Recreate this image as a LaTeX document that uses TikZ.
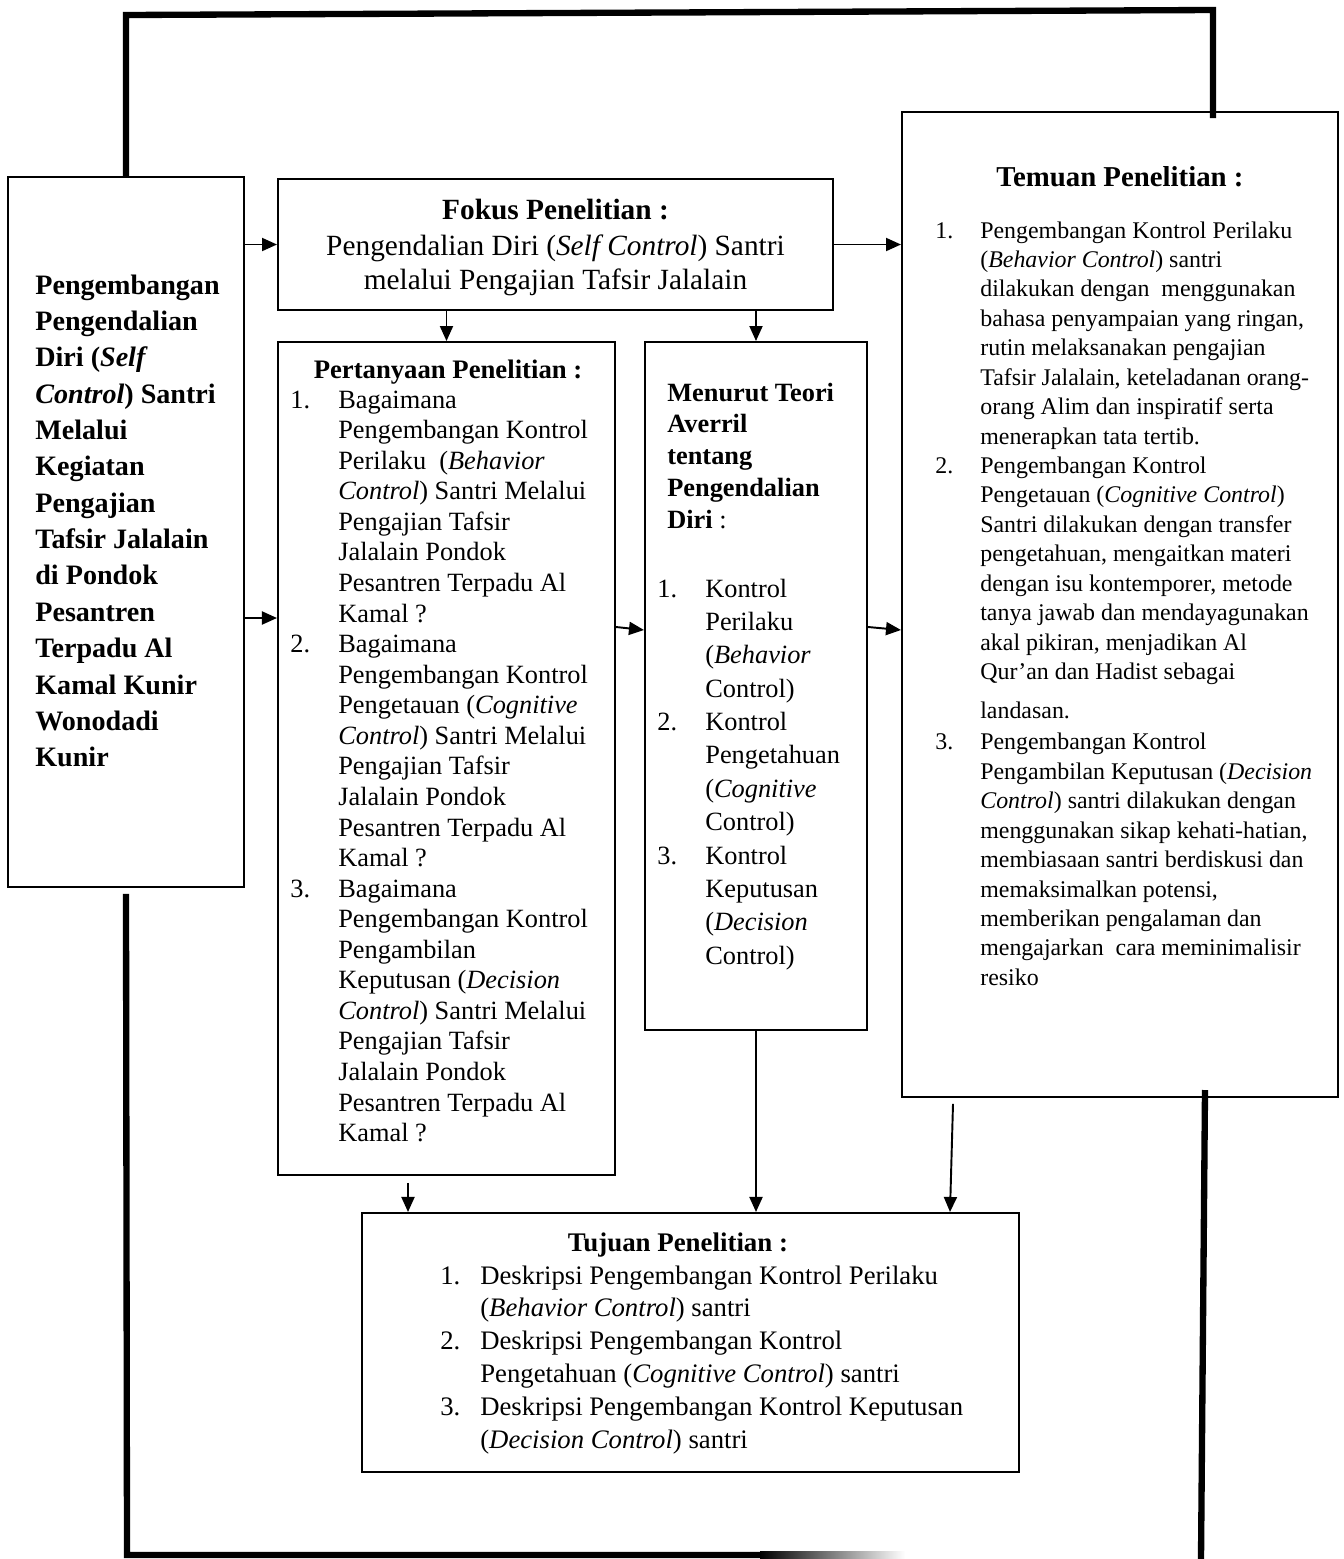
\documentclass[tikz,border=0pt]{standalone}
\usepackage{fontspec}
\setmainfont{Liberation Serif}
\usetikzlibrary{arrows.meta, positioning}

\begin{document}
\begin{tikzpicture}[x=0.02cm, y=-0.02cm,
    box/.style={draw, rectangle, line width=1.2pt, inner sep=0pt},
    txt/.style={anchor=base west, inner sep=0pt},
    ttl/.style={anchor=base, inner sep=0pt, font=\fontsize{15.2}{18}\selectfont\bfseries},
    arr/.style={-{Triangle[length=0.3cm, width=0.26cm]}, line width=1.1pt},
    loopline/.style={line width=3.6pt}]

    \useasboundingbox (0,0) rectangle (1344,1559);

    % Boxes of the framework
    \node (leftBox) [box, minimum width=4.72cm, minimum height=14.2cm] at (126,532) {};
    \node (fokus) [box, minimum width=11.1cm, minimum height=2.62cm] at (555.5,244.5) {};
    \node (pertanyaan) [box, minimum width=6.74cm, minimum height=16.66cm] at (446.5,758.5) {};
    \node (menurut) [box, minimum width=4.44cm, minimum height=13.76cm] at (756,686) {};
    \node (temuan) [box, minimum width=8.72cm, minimum height=19.7cm] at (1120,604.5) {};
    \node (tujuan) [box, minimum width=13.14cm, minimum height=5.18cm] at (690.5,1342.5) {};

    % Texts inside the boxes
    \node (leftText) [txt, font=\fontsize{16}{20.7}\selectfont\bfseries] at (35,294) {\begin{tabular}[t]{@{}l@{}}
        Pengembangan\\ Pengendalian\\ Diri (\textit{Self}\\ \textit{Control}) Santri\\ Melalui\\ Kegiatan\\ Pengajian\\
        Tafsir Jalalain\\ di Pondok\\ Pesantren\\ Terpadu Al\\ Kamal Kunir\\ Wonodadi\\ Kunir
    \end{tabular}};

    \node (fokusText) [ttl, font=\fontsize{16.7}{19.5}\selectfont] at (555.5,219) {\begin{tabular}[t]{@{}c@{}}
        \textbf{Fokus Penelitian :}\\[1pt]
        Pengendalian Diri (\textit{Self Control}) Santri\\
        melalui Pengajian Tafsir Jalalain
    \end{tabular}};

    \node (pertanyaanTitle) [ttl] at (448,378) {Pertanyaan Penelitian :};
    \node (pertanyaanList) [txt, font=\fontsize{15}{17.4}\selectfont] at (290,408) {\begin{tabular}[t]{@{}p{0.96cm}@{}l@{}}
        1. & Bagaimana\\ & Pengembangan Kontrol\\ & Perilaku~ (\textit{Behavior}\\ & \textit{Control}) Santri Melalui\\
           & Pengajian Tafsir\\ & Jalalain Pondok\\ & Pesantren Terpadu Al\\ & Kamal ?\\
        2. & Bagaimana\\ & Pengembangan Kontrol\\ & Pengetauan (\textit{Cognitive}\\ & \textit{Control}) Santri Melalui\\
           & Pengajian Tafsir\\ & Jalalain Pondok\\ & Pesantren Terpadu Al\\ & Kamal ?\\
        3. & Bagaimana\\ & Pengembangan Kontrol\\ & Pengambilan\\ & Keputusan (\textit{Decision}\\
           & \textit{Control}) Santri Melalui\\ & Pengajian Tafsir\\ & Jalalain Pondok\\ & Pesantren Terpadu Al\\ & Kamal ?
    \end{tabular}};

    \node (menurutHead) [txt, font=\fontsize{15}{18.1}\selectfont] at (667,401) {\begin{tabular}[t]{@{}l@{}}
        \textbf{Menurut Teori}\\ \textbf{Averril}\\ \textbf{tentang}\\ \textbf{Pengendalian}\\ \textbf{Diri} :
    \end{tabular}};
    \node (menurutList) [txt, font=\fontsize{15}{19}\selectfont] at (657,597) {\begin{tabular}[t]{@{}p{0.96cm}@{}l@{}}
        1. & Kontrol\\ & Perilaku\\ & (\textit{Behavior}\\ & Control)\\
        2. & Kontrol\\ & Pengetahuan\\ & (\textit{Cognitive}\\ & Control)\\
        3. & Kontrol\\ & Keputusan\\ & (\textit{Decision}\\ & Control)
    \end{tabular}};

    \node (temuanTitle) [ttl, font=\fontsize{16.4}{19}\selectfont\bfseries] at (1120,186) {Temuan Penelitian :};
    \node (temuanList) [txt, font=\fontsize{13.6}{16.75}\selectfont] at (935,238) {\begin{tabular}[t]{@{}p{0.9cm}@{}l@{}}
        1. & Pengembangan Kontrol Perilaku\\ & (\textit{Behavior Control}) santri\\ & dilakukan dengan~ menggunakan\\
           & bahasa penyampaian yang ringan,\\ & rutin melaksanakan pengajian\\ & Tafsir Jalalain, keteladanan orang-\\
           & orang Alim dan inspiratif serta\\ & menerapkan tata tertib.\\
        2. & Pengembangan Kontrol\\ & Pengetauan (\textit{Cognitive Control})\\ & Santri dilakukan dengan transfer\\
           & pengetahuan, mengaitkan materi\\ & dengan isu kontemporer, metode\\ & tanya jawab dan mendayagunakan\\
           & akal pikiran, menjadikan Al\\ & Qur’an dan Hadist sebagai\\[5.4pt] & landasan.\\[1.2pt]
        3. & Pengembangan Kontrol\\ & Pengambilan Keputusan (\textit{Decision}\\ & \textit{Control}) santri dilakukan dengan\\
           & menggunakan sikap kehati-hatian,\\ & membiasaan santri berdiskusi dan\\ & memaksimalkan potensi,\\
           & memberikan pengalaman dan\\ & mengajarkan~ cara meminimalisir\\ & resiko
    \end{tabular}};

    \node (tujuanTitle) [ttl, font=\fontsize{15.3}{18}\selectfont\bfseries] at (678,1251) {Tujuan Penelitian :};
    \node (tujuanList) [txt, font=\fontsize{15.2}{18.7}\selectfont] at (440,1284) {\begin{tabular}[t]{@{}p{0.8cm}@{}l@{}}
        1. & Deskripsi Pengembangan Kontrol Perilaku\\ & (\textit{Behavior Control}) santri\\
        2. & Deskripsi Pengembangan Kontrol\\ & Pengetahuan (\textit{Cognitive Control}) santri\\
        3. & Deskripsi Pengembangan Kontrol Keputusan\\ & (\textit{Decision Control}) santri
    \end{tabular}};

    % Arrows between the boxes
    \draw[arr] (leftBox.east |- fokus.west) -- (fokus.west);
    \draw[arr] (leftBox.east |- 0,618) -- (pertanyaan.west |- 0,618);
    \draw[arr] (fokus.east) -- (temuan.west |- fokus.east);
    \draw[arr] (pertanyaan.north |- fokus.south) -- (pertanyaan.north);
    \draw[arr] (menurut.north |- fokus.south) -- (menurut.north);
    \draw[arr] (pertanyaan.east |- 0,627) -- (menurut.west |- 0,630);
    \draw[arr] (menurut.east |- 0,627) -- (temuan.west |- 0,630);
    \draw[arr] (pertanyaan.south -| 408,0) ++(0,7) -- (tujuan.north -| 408,0);
    \draw[arr] (menurut.south) -- (tujuan.north -| menurut.south);
    \draw[arr] (temuan.south -| 953,0) ++(0,6) -- (tujuan.north -| 950,0);

    % Thick feedback loop
    \coordinate (cornerNW) at (126,15);
    \coordinate (cornerNE) at (1213,10);
    \coordinate (temuanIn) at (1213,118);
    \coordinate (cornerSW) at (127,1555);
    \coordinate (fadeStart) at (762,1555);
    \coordinate (temuanOut) at (1205,1090);
    \coordinate (cornerSE) at (1201,1559);
    \draw[loopline] (leftBox.north) -- (cornerNW) -- (cornerNE) -- (temuanIn);
    \draw[loopline] ([yshift=-0.12cm]leftBox.south) -- (cornerSW) -- (fadeStart);
    \shade[left color=black, right color=white] (760,1551.8) rectangle (905,1558.2);
    \draw[loopline] (temuanOut) -- (cornerSE);

\end{tikzpicture}
\end{document}
